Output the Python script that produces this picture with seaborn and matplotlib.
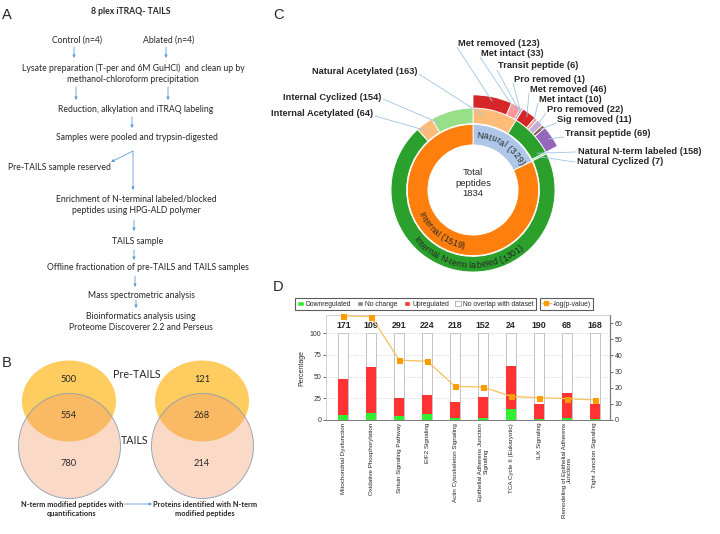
import numpy as np
import matplotlib
matplotlib.use('Agg')
import matplotlib.pyplot as plt
from matplotlib.patches import Ellipse, Patch
from matplotlib.lines import Line2D
from matplotlib.font_manager import FontProperties
from matplotlib.textpath import TextToPath
import seaborn as sns

sns.set_style('white')
plt.rcParams['font.family'] = ['Liberation Sans', 'DejaVu Sans']

# ---------------- data ----------------
# Panel A: workflow
flow_title = '8 plex iTRAQ- TAILS'
flow_steps = ['Control (n=4)', 'Ablated (n=4)',
              'Lysate preparation (T-per and 6M GuHCl)  and clean up by\nmethanol-chloroform precipitation',
              'Reduction, alkylation and iTRAQ labeling',
              'Samples were pooled and trypsin-digested',
              'Pre-TAILS sample reserved',
              'Enrichment of N-terminal labeled/blocked\npeptides using HPG-ALD polymer',
              'TAILS sample',
              'Offline fractionation of pre-TAILS and TAILS samples',
              'Mass spectrometric analysis',
              'Bioinformatics analysis using\nProteome Discoverer 2.2 and Perseus']

# Panel B: Venn counts (Pre-TAILS only, both, TAILS only)
venn_sets = ['Pre-TAILS', 'TAILS']
venn_peptides = [500, 554, 780]
venn_proteins = [121, 268, 214]
venn_captions = ['N-term modified peptides with\nquantifications',
                 'Proteins identified with N-term\nmodified peptides']

# Panel C: nested donut
total_peptides = 1834
inner_labels = ['Natural', 'Internal']
inner_counts = [329, 1519]
mid_labels = ['Natural Acetylated', 'Natural N-term labeled', 'Natural Cyclized',
              'Internal N-term labeled', 'Internal Acetylated', 'Internal Cyclized']
mid_counts = [163, 158, 7, 1301, 64, 154]
outer_labels = ['Met removed', 'Met intact', 'Transit peptide', 'Pro removed',
                'Met removed', 'Met intact', 'Pro removed', 'Sig removed', 'Transit peptide']
outer_counts = [123, 33, 6, 1, 46, 10, 22, 11, 69]

# Panel D: canonical pathways
pathways = ['Mitochondrial Dysfunction', 'Oxidative Phosphorylation', 'Sirtuin Signaling Pathway',
            'EIF2 Signaling', 'Actin Cytoskeleton Signaling',
            'Epithelial Adherens Junction\nSignaling', 'TCA Cycle II (Eukaryotic)', 'ILK Signaling',
            'Remodeling of Epithelial Adherens\nJunctions', 'Tight Junction Signaling']
n_molecules = [171, 109, 291, 224, 218, 152, 24, 190, 68, 168]
pct_down = [5.3, 8.4, 4.6, 6.9, 1.9, 2.7, 12.7, 1.5, 2.7, 0.6]
pct_up = [41.6, 52.4, 20.4, 21.5, 19.2, 23.4, 48.8, 17.0, 28.8, 17.9]
neg_log_p = [64.5, 64.0, 37.0, 36.4, 20.8, 20.4, 14.6, 13.8, 13.2, 12.4]

# donut geometry in figure pixels
CX, CY, UNIT = 473, 190, 82
t2p = TextToPath()


def char_px(ch, fp):
    if ch == ' ':
        w = t2p.get_text_width_height_descent('a a', fp, False)[0] - t2p.get_text_width_height_descent('aa', fp, False)[0]
    else:
        w = t2p.get_text_width_height_descent(ch, fp, False)[0]
    return w * 100 / 72


def curved_text(ax, s, radius, center_deg, top=True, size=6):
    fp = FontProperties(family='Liberation Sans', size=size)
    adv = np.array([char_px(c, fp) * 1.05 for c in s]) / UNIT
    pos = np.cumsum(adv) - adv / 2 - adv.sum() / 2
    for ch, p in zip(s, pos):
        if top:
            theta = np.radians(center_deg) - p / radius
            rot = np.degrees(theta) - 90
        else:
            theta = np.radians(center_deg) + p / radius
            rot = np.degrees(theta) + 90
        ax.text(radius * np.cos(theta), radius * np.sin(theta), ch, fontproperties=fp,
                rotation=rot, ha='center', va='baseline', rotation_mode='anchor')


def wedge_angle(counts, i, frac=0.5):
    tot = sum(counts)
    return 90 - 360 * (sum(counts[:i]) + counts[i] * frac) / tot


def to_px(r, deg):
    return CX + r * UNIT * np.cos(np.radians(deg)), CY - r * UNIT * np.sin(np.radians(deg))


def draw_flowchart(ax):
    ax.text(131, 12, flow_title, ha='center', va='center', fontsize=6.2, fontweight='bold', family='Lato')
    spots = [(77, 40, 'center'), (169, 40, 'center'), (133, 73.5, 'center'), (136, 110, 'center'),
             (137, 138, 'center'), (8, 168, 'left'), (136, 205, 'center'), (138, 242, 'center'),
             (148, 268, 'center'), (142, 295, 'center'), (141, 322, 'center')]
    for txt, (x, y, ha) in zip(flow_steps, spots):
        ax.text(x, y, txt, ha=ha, va='center', fontsize=6.2, family='Lato',
                linespacing=1.3, multialignment='center')
    arrows = [((74, 47), (74, 58)), ((166, 47), (166, 58)), ((76, 87), (76, 100)),
              ((168, 87), (168, 100)), ((132, 117), (132, 128)), ((133, 151), (111, 162)),
              ((133, 151), (133, 190)), ((134, 220), (134, 231)), ((134, 250), (134, 260)),
              ((135, 276), (135, 287)), ((136, 300), (136, 308))]
    for start, end in arrows:
        ax.annotate('', xy=end, xytext=start,
                    arrowprops=dict(arrowstyle='-|>', color='#5b9bd5', lw=0.6,
                                    mutation_scale=4, shrinkA=0, shrinkB=0))


def draw_venn(ax, cx, counts, caption):
    ax.add_patch(Ellipse((cx, 401), 94, 81, facecolor='#ffcc5f', edgecolor='none'))
    ax.add_patch(Ellipse((cx + 0.5, 446), 102, 105, facecolor='#f29e6e', alpha=0.38, edgecolor='none'))
    ax.add_patch(Ellipse((cx + 0.5, 446), 102, 105, fill=False, edgecolor='#8c9db5', lw=0.6))
    for n, y in zip(counts, (379, 415, 464)):
        ax.text(cx, y, str(n), ha='center', va='center', fontsize=6.7, family='Lato')
    ax.text(cx + 3, 509, caption, ha='center', va='center', fontsize=5.3, fontweight='bold',
            family='Lato', linespacing=1.4)


def draw_donut(fig, ax_bg):
    pal = sns.color_palette('tab20')
    ax = fig.add_axes([(CX - 1.25 * UNIT) / 720, (534 - CY - 1.25 * UNIT) / 534,
                       2.5 * UNIT / 720, 2.5 * UNIT / 534])
    wp = dict(edgecolor='white', linewidth=0.6)
    ax.pie(inner_counts, radius=0.80, colors=[pal[1], pal[2]], startangle=90, counterclock=False,
           wedgeprops=dict(width=0.25, **wp))
    ax.pie(mid_counts, radius=1.0, colors=[pal[3], pal[4], pal[5], pal[4], pal[3], pal[5]],
           startangle=90, counterclock=False, wedgeprops=dict(width=0.19, **wp))
    outer_full = outer_counts + [sum(mid_counts) - sum(outer_counts)]
    outer_cols = [pal[6], pal[7], pal[8], pal[9], pal[6], pal[7], pal[9], pal[10], pal[8], 'none']
    wedges, _ = ax.pie(outer_full, radius=1.16, colors=outer_cols, startangle=90, counterclock=False,
                       wedgeprops=dict(width=0.16, **wp))
    wedges[-1].set_edgecolor('none')
    ax.set_xlim(-1.25, 1.25)
    ax.set_ylim(-1.25, 1.25)
    ax.set_aspect('equal')

    ax.text(0, 0.085, f'Total\npeptides\n{total_peptides}', ha='center', va='center',
            fontsize=6.8, linespacing=1.2)
    curved_text(ax, f'{inner_labels[0]} ({inner_counts[0]})', 0.64, 57, top=True, size=6.4)
    curved_text(ax, f'{inner_labels[1]} ({inner_counts[1]})', 0.72, 232, top=False, size=6.4)
    curved_text(ax, f'{mid_labels[3]} ({mid_counts[3]})', 0.95, 265, top=False, size=6.4)

    line_kw = dict(color='#9ec5e8', lw=0.6)
    lab_kw = dict(fontsize=6.7, fontweight='bold', va='center')
    right_spots = [(458, 43), (481, 53), (498, 66), (514, 79), (530, 89),
                   (539, 99), (547, 109), (557, 119), (565, 133)]
    for i, (x, y) in enumerate(right_spots):
        ax_bg.text(x, y, f'{outer_labels[i]} ({outer_counts[i]})', ha='left', **lab_kw)
        px, py = to_px(1.11, wedge_angle(outer_full, i))
        ax_bg.plot([x - 1, px], [y + 4, py], **line_kw)
    for i, x, y, frac in [(1, 578, 152, 0.92), (2, 577, 162, 0.5)]:
        ax_bg.text(x, y, f'{mid_labels[i]} ({mid_counts[i]})', ha='left', **lab_kw)
        px, py = to_px(0.9, wedge_angle(mid_counts, i, frac))
        ax_bg.plot([x - 2, px], [y, py], **line_kw)
    for i, x, y, frac in [(0, 417, 72, 0.25), (5, 381, 97, 0.1), (4, 373, 114, 0.35)]:
        ax_bg.text(x, y, f'{mid_labels[i]} ({mid_counts[i]})', ha='right', **lab_kw)
        px, py = to_px(0.92, wedge_angle(mid_counts, i, frac))
        ax_bg.plot([x + 2, px], [y + 2, py], **line_kw)


def draw_pathways(fig):
    ax = fig.add_axes([326 / 720, 114 / 534, 284 / 720, 105 / 534])
    bar_kw = dict(width=0.36, saturation=1, ax=ax)
    sns.barplot(x=pathways, y=[100] * len(pathways), color='white', edgecolor='#c4c4c4',
                linewidth=0.7, **bar_kw)
    sns.barplot(x=pathways, y=np.add(pct_down, pct_up), color='#ff3333', linewidth=0, **bar_kw)
    sns.barplot(x=pathways, y=pct_down, color='#33ee33', linewidth=0, **bar_kw)
    for i, n in enumerate(n_molecules):
        ax.text(i, 109, str(n), ha='center', va='center', fontsize=6.4, fontweight='bold')

    ax.set_ylim(0, 120.7)
    ax.set_yticks([0, 25, 50, 75, 100])
    ax.set_xlabel('')
    ax.set_ylabel('Percentage', fontsize=5, labelpad=3)
    ax.set_xticks(range(len(pathways)))
    ax.set_xticklabels(pathways, rotation=90, fontsize=4.5)
    ax.tick_params(axis='x', length=0, pad=2)
    ax.tick_params(axis='y', labelsize=5, length=2, width=0.5, pad=1.5, colors='#333333')
    ax.yaxis.grid(True, linestyle=':', color='#c8c8c8', lw=0.6)
    ax.set_axisbelow(True)
    for side in ['top', 'left']:
        ax.spines[side].set_color('#cccccc')
        ax.spines[side].set_linewidth(0.6)
    ax.spines['bottom'].set_color('#777777')
    ax.spines['bottom'].set_linewidth(0.7)

    ax2 = ax.twinx()
    sns.lineplot(x=pathways, y=neg_log_p, ax=ax2, sort=False, color='#f6c15e', lw=0.9,
                 marker='s', markersize=3.6, markerfacecolor='#ff9d00', markeredgecolor='#ff9d00',
                 clip_on=False)
    ax2.set_ylim(0, 65)
    ax2.set_yticks(range(0, 61, 10))
    ax2.set_ylabel('')
    ax2.tick_params(axis='y', labelsize=5, length=2, width=0.5, pad=1.5, colors='#333333')
    ax2.spines['right'].set_color('#888888')
    ax2.spines['right'].set_linewidth(0.6)
    for side in ['top', 'left', 'bottom']:
        ax2.spines[side].set_visible(False)
    ax.set_xlim(-0.62, 9.54)

    handles = [Patch(facecolor='#33ee33', label='Downregulated'),
               Patch(facecolor='#888888', label='No change'),
               Patch(facecolor='#ff3333', label='Upregulated'),
               Patch(facecolor='white', edgecolor='#999999', lw=0.5, label='No overlap with dataset')]
    leg_kw = dict(loc='lower left', fontsize=4.9, frameon=True, fancybox=False, borderaxespad=0,
                  handlelength=0.9, handleheight=0.9, handletextpad=0.3, columnspacing=0.9,
                  borderpad=0.35)
    leg1 = ax.legend(handles=handles, ncol=4, bbox_to_anchor=(-0.109, 1.045), **leg_kw)
    line_h = [Line2D([0], [0], color='#f6c15e', lw=0.9, marker='s', markersize=3,
                     markerfacecolor='#ff9d00', markeredgecolor='#ff9d00', label='-log(p-value)')]
    leg2 = ax2.legend(handles=line_h, bbox_to_anchor=(0.752, 1.045), **dict(leg_kw, handlelength=1.3))
    for leg in (leg1, leg2):
        leg.get_frame().set_edgecolor('#333333')
        leg.get_frame().set_linewidth(0.8)


fig = plt.figure(figsize=(7.2, 5.34), dpi=100)
ax_bg = fig.add_axes([0, 0, 1, 1])
ax_bg.set_xlim(0, 720)
ax_bg.set_ylim(534, 0)
ax_bg.axis('off')
ax_bg.set_zorder(5)
ax_bg.patch.set_visible(False)

for letter, (x, y) in zip('ABCD', [(2, 15), (2, 363), (273, 15), (273, 287)]):
    ax_bg.text(x, y, letter, ha='left', va='center', fontsize=10.5)

draw_flowchart(ax_bg)
draw_venn(ax_bg, 69, venn_peptides, venn_captions[0])
draw_venn(ax_bg, 202, venn_proteins, venn_captions[1])
ax_bg.text(137, 374, venn_sets[0], ha='center', va='center', fontsize=7.7, family='Lato')
ax_bg.text(135, 440, venn_sets[1], ha='center', va='center', fontsize=7.7, family='Lato')
ax_bg.annotate('', xy=(152, 504), xytext=(124, 504),
               arrowprops=dict(arrowstyle='-|>', color='#5b9bd5', lw=0.6, mutation_scale=4,
                               shrinkA=0, shrinkB=0))

draw_donut(fig, ax_bg)
draw_pathways(fig)

fig.savefig('out.png', dpi=100)
